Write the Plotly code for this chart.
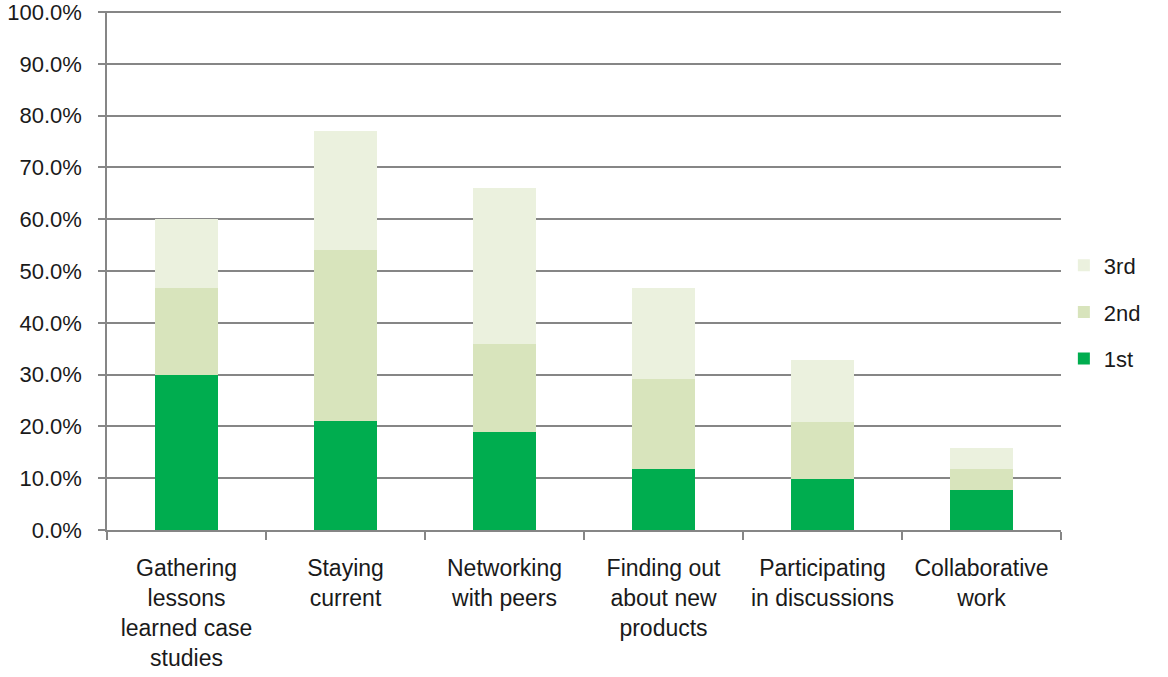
import plotly.graph_objects as go

categories = [
    "Gathering<br>lessons<br>learned case<br>studies",
    "Staying<br>current",
    "Networking<br>with peers",
    "Finding out<br>about new<br>products",
    "Participating<br>in discussions",
    "Collaborative<br>work",
]
first = [30.0, 21.0, 19.0, 11.7, 9.8, 7.8]
second = [16.7, 33.0, 17.0, 17.4, 11.1, 3.9]
third = [13.3, 23.0, 30.0, 17.7, 12.0, 4.2]
series_names = ["1st", "2nd", "3rd"]
series_values = [first, second, third]
colors = ["#00AD4F", "#D8E4BC", "#EBF1DE"]
legend_ranks = [3, 2, 1]

FONT = "Liberation Sans, Arial, sans-serif"

fig = go.Figure()
for name, vals, col, rk in zip(series_names, series_values, colors, legend_ranks):
    fig.add_trace(go.Bar(
        x=categories, y=vals, name=name, legendgroup=name, legendrank=rk,
        marker=dict(color=col, line=dict(width=0)),
    ))

fig.update_layout(
    width=1168, height=677,
    barmode="stack", bargap=0.6,
    plot_bgcolor="white", paper_bgcolor="white",
    margin=dict(l=107, r=107, t=11, b=147, autoexpand=False),
    font=dict(family=FONT, size=23, color="#1a1a1a"),
    legend=dict(
        x=1.003, xanchor="left", y=0.55, yanchor="top",
        traceorder="grouped", tracegroupgap=15,
        font=dict(family=FONT, size=22, color="#1a1a1a"),
        itemwidth=30,
    ),
    showlegend=True,
)
fig.update_xaxes(
    type="category", tickson="boundaries", automargin=False,
    ticks="outside", ticklen=8, tickcolor="#868686", tickwidth=1.5,
    showline=True, linecolor="#868686", linewidth=1.5,
    showgrid=False, tickangle=0, ticklabelstandoff=17,
    tickfont=dict(family=FONT, size=23, color="#1a1a1a"),
)
fig.update_yaxes(
    range=[0, 100.2], tick0=0, dtick=10, ticksuffix="%", tickformat=".1f",
    automargin=False,
    ticks="outside", ticklen=7, tickcolor="#868686", tickwidth=1.5,
    showline=True, linecolor="#868686", linewidth=1.5,
    showgrid=True, gridcolor="#868686", gridwidth=1.5,
    zeroline=False, ticklabelstandoff=12, ticklabeloverflow="allow",
    tickfont=dict(family=FONT, size=22, color="#1a1a1a"),
)
fig.write_html("out.html")
